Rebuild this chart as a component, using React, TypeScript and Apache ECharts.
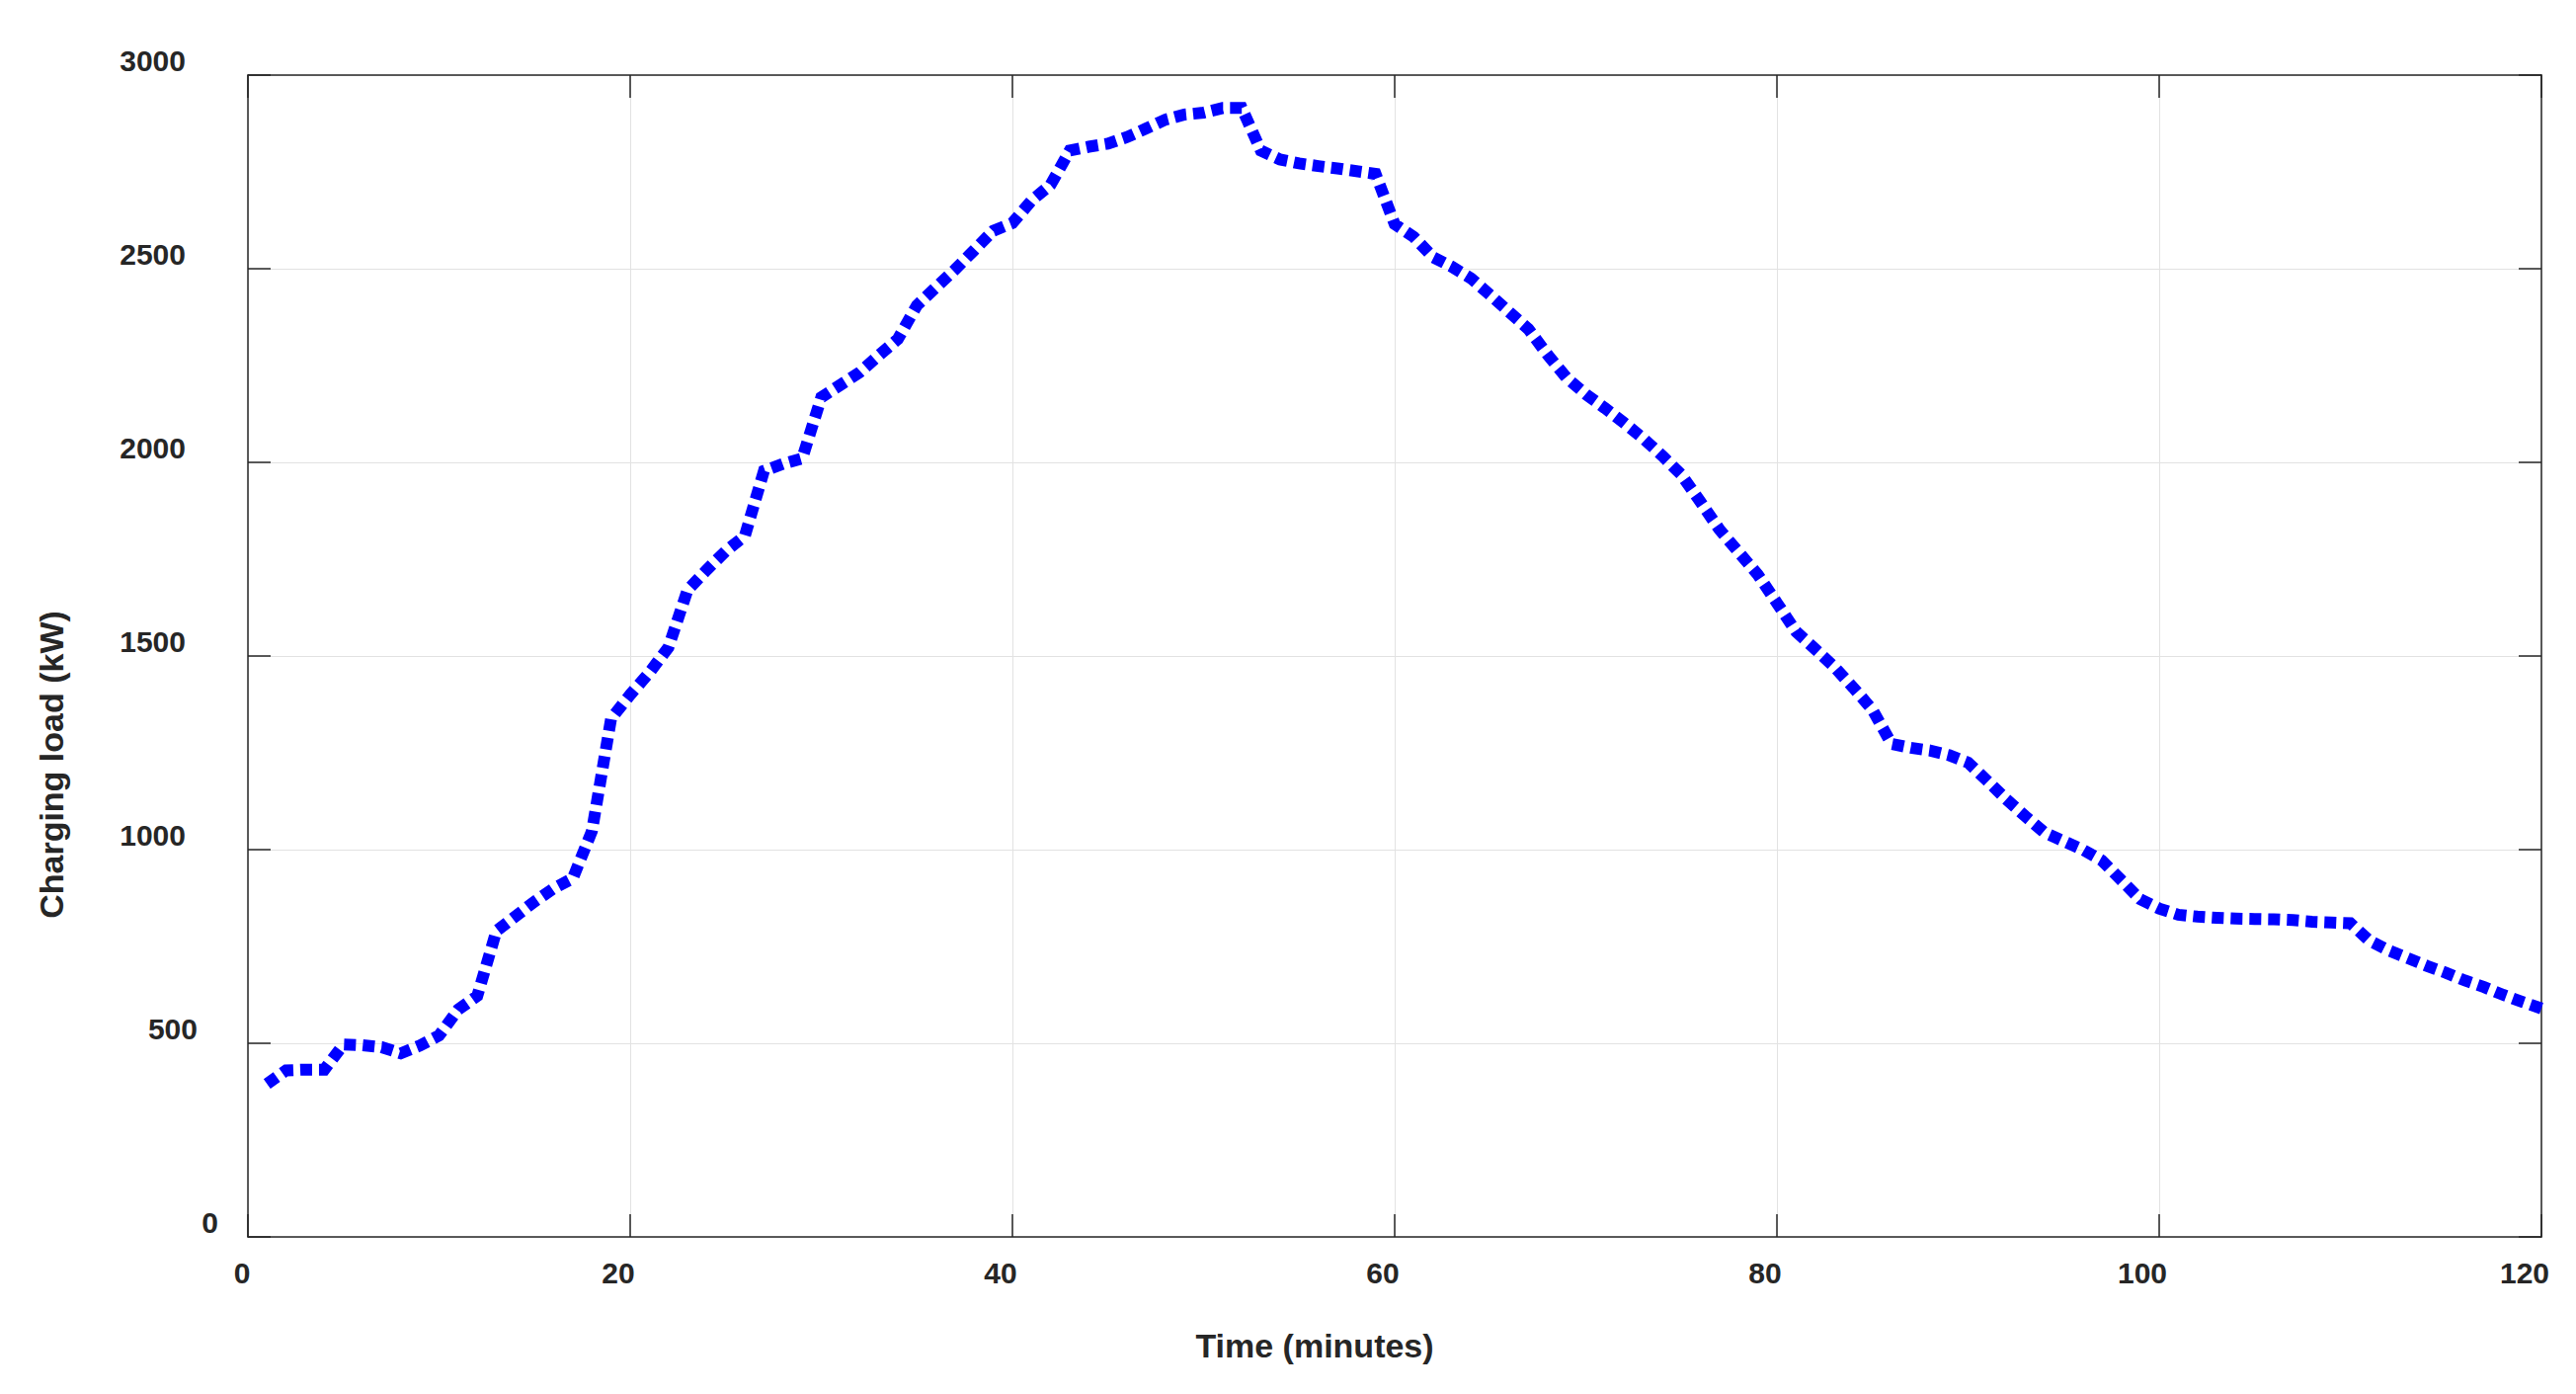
import React, { useEffect, useRef } from "react";
import * as echarts from "echarts";

// ---- data ----
const minutes = [
  1, 2, 3, 4, 5, 6, 7, 8, 9, 10,
  11, 12, 13, 14, 15, 16, 17, 18, 19, 20,
  21, 22, 23, 24, 25, 26, 27, 28, 29, 30,
  31, 32, 33, 34, 35, 36, 37, 38, 39, 40,
  41, 42, 43, 44, 45, 46, 47, 48, 49, 50,
  51, 52, 53, 54, 55, 56, 57, 58, 59, 60,
  61, 62, 63, 64, 65, 66, 67, 68, 69, 70,
  71, 72, 73, 74, 75, 76, 77, 78, 79, 80,
  81, 82, 83, 84, 85, 86, 87, 88, 89, 90,
  91, 92, 93, 94, 95, 96, 97, 98, 99, 100,
  101, 102, 103, 104, 105, 106, 107, 108, 109, 110,
  111, 112, 113, 114, 115, 116, 117, 118, 119, 120,
];

const chargingLoadKW = [
  395, 430, 432, 432, 497, 495, 490, 474, 494, 520,
  587, 622, 790, 828, 866, 900, 926, 1048, 1338, 1400,
  1457, 1522, 1670, 1722, 1771, 1810, 1978, 1996, 2010, 2168,
  2200, 2232, 2276, 2318, 2405, 2452, 2498, 2548, 2598, 2618,
  2676, 2717, 2805, 2815, 2823, 2840, 2862, 2885, 2898, 2903,
  2915, 2915, 2805, 2782, 2772, 2765, 2759, 2752, 2745, 2615,
  2582, 2530, 2505, 2475, 2432, 2388, 2344, 2278, 2218, 2176,
  2140, 2102, 2062, 2017, 1968, 1898, 1826, 1768, 1710, 1637,
  1563, 1518, 1472, 1418, 1361, 1273, 1263, 1256, 1244, 1225,
  1178, 1130, 1086, 1044, 1022, 1000, 972, 922, 872, 848,
  832, 827, 824, 822, 821, 820, 818, 814, 812, 810,
  765, 740, 720, 700, 682, 662, 645, 625, 607, 590,
];

const xAxisTitle = "Time (minutes)";
const yAxisTitle = "Charging load (kW)";
const xMin = 0;
const xMax = 120;
const xStep = 20;
const yMin = 0;
const yMax = 3000;
const yStep = 500;

const FONT = "'Liberation Sans', Arial, Helvetica, sans-serif";
const INK = "#262626";

export default function App() {
  const ref = useRef<HTMLDivElement>(null);

  useEffect(() => {
    document.body.style.margin = "0";
    document.body.style.overflow = "hidden";
    if (!ref.current) return;
    const chart = echarts.init(ref.current, null, { renderer: "svg" });

    const tickFont = {
      fontFamily: FONT,
      fontSize: 30,
      fontWeight: "bold" as const,
      color: INK,
      lineHeight: 30,
    };

    const axisLineStyle = { color: INK, width: 1.5 };
    const boxLine = { show: true, onZero: false, lineStyle: axisLineStyle };
    const insideTicks = { show: true, inside: true, length: 23, lineStyle: axisLineStyle };

    const option: any = {
      animation: false,
      backgroundColor: "#ffffff",
      grid: {
        left: 251,
        top: 76,
        width: 2322,
        height: 1176,
        containLabel: false,
        outerBoundsMode: "none",
      },
      xAxis: [
        {
          type: "value",
          position: "bottom",
          min: xMin,
          max: xMax,
          interval: xStep,
          name: xAxisTitle,
          nameLocation: "middle",
          nameGap: 93,
          nameTextStyle: {
            fontFamily: FONT,
            fontSize: 34,
            fontWeight: "bold",
            color: INK,
            lineHeight: 34,
            padding: [0, 162, 0, 0],
          },
          axisLine: boxLine,
          axisTick: insideTicks,
          splitLine: { show: true, lineStyle: { color: "#e2e2e2", width: 1 } },
          axisLabel: {
            ...tickFont,
            margin: 21,
            align: "center",
            verticalAlign: "top",
            formatter: (v: number) =>
              v < 10 ? `{s|${v}}` : v < 100 ? `{m|${v}}` : `{w|${v}}`,
            rich: {
              s: { ...tickFont, padding: [0, 12, 0, 0] },
              m: { ...tickFont, padding: [0, 24, 0, 0] },
              w: { ...tickFont, padding: [0, 34, 0, 0] },
            },
          },
        },
        {
          type: "value",
          position: "top",
          min: xMin,
          max: xMax,
          interval: xStep,
          axisLine: boxLine,
          axisTick: insideTicks,
          splitLine: { show: false },
          axisLabel: { show: false },
        },
      ],
      yAxis: [
        {
          type: "value",
          position: "left",
          min: yMin,
          max: yMax,
          interval: yStep,
          name: yAxisTitle,
          nameLocation: "middle",
          nameGap: 182,
          nameTextStyle: {
            fontFamily: FONT,
            fontSize: 34,
            fontWeight: "bold",
            color: INK,
            lineHeight: 34,
            padding: [0, 220, 0, 0],
          },
          axisLine: boxLine,
          axisTick: insideTicks,
          splitLine: { show: true, lineStyle: { color: "#e2e2e2", width: 1 } },
          axisLabel: {
            ...tickFont,
            margin: 30,
            align: "right",
            verticalAlign: "bottom",
            formatter: (v: number) =>
              v >= 1000 ? `{w|${v}}` : v >= 100 ? `{m|${v}}` : `{s|${v}}`,
            rich: {
              s: { ...tickFont },
              m: { ...tickFont, padding: [0, 21, 0, 0] },
              w: { ...tickFont, padding: [0, 33, 0, 0] },
            },
          },
        },
        {
          type: "value",
          position: "right",
          min: yMin,
          max: yMax,
          interval: yStep,
          axisLine: boxLine,
          axisTick: insideTicks,
          splitLine: { show: false },
          axisLabel: { show: false },
        },
      ],
      series: [
        {
          type: "line",
          xAxisIndex: 0,
          yAxisIndex: 0,
          data: minutes.map((m, i) => [m, chargingLoadKW[i]]),
          showSymbol: false,
          symbol: "none",
          smooth: false,
          lineStyle: {
            color: "#0000ff",
            width: 12,
            type: [12, 7],
            cap: "butt",
            join: "miter",
          },
        },
      ],
    };

    chart.setOption(option);
    return () => chart.dispose();
  }, []);

  return <div ref={ref} style={{ width: 2608, height: 1411 }} />;
}
